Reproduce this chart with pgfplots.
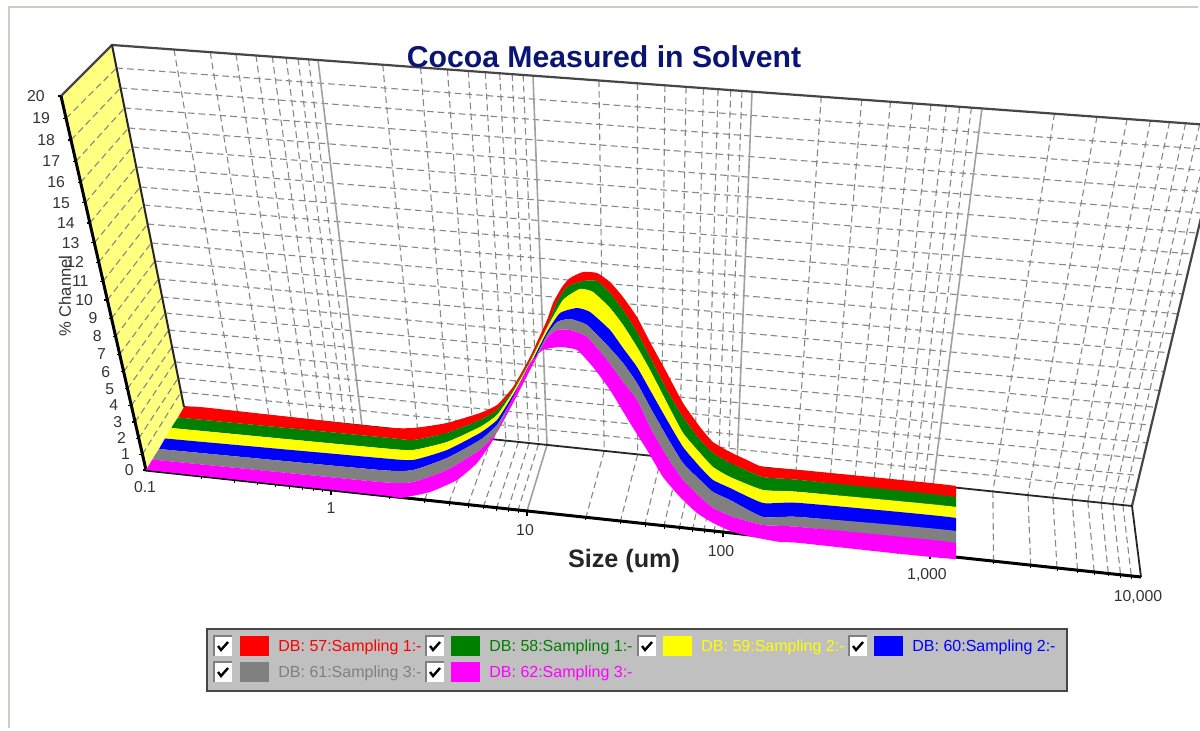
\documentclass[border=0pt]{standalone}
\usepackage{fontspec}
\setmainfont{Liberation Sans}
\usepackage{pgfplots}
\usepackage{pgfplotstable}
\pgfplotsset{compat=1.18}

\definecolor{navytitle}{RGB}{10,20,115}
\definecolor{wallyellow}{RGB}{255,255,128}
\definecolor{gridgray}{RGB}{135,135,135}
\definecolor{majorgray}{RGB}{160,160,160}
\definecolor{framegray}{RGB}{70,70,70}
\definecolor{panelgray}{RGB}{192,192,192}
\definecolor{border}{RGB}{208,204,194}
\definecolor{dbred}{RGB}{255,0,0}
\definecolor{dbgreen}{RGB}{0,128,0}
\definecolor{dbyellow}{RGB}{255,255,0}
\definecolor{dbblue}{RGB}{0,0,255}
\definecolor{dbgray}{RGB}{128,128,128}
\definecolor{dbmagenta}{RGB}{255,0,255}

% picture is laid out in reference pixels (y downwards), 1 px = 0.5 pt
% band edges, back to front
\pgfplotstableread{
x y
184 407
205 407.5
380 427
413 428
447 423
480 413
497 405
513 387
530 357
547 320
553 303
562 287
570 278
583 272
597 273
610 282
623 297
637 317
650 342
667 373
683 403
700 427
713 442
730 452
747 460
763 467
800 470
956 486
}\edgeA
\pgfplotstableread{
x y
178 417.5
380 437
413 440
447 433
480 420
497 410
513 390
530 360
547 327
557 302
567 287
583 281
597 281
610 293
623 310
637 332
650 357
667 390
683 417
700 440
713 453
730 463
763 477
800 480
956 497
}\edgeB
\pgfplotstableread{
x y
171 428
380 448
413 450
447 442
480 427
497 415
513 392
530 362
547 328
563 300
580 289
593 292
610 308
623 325
637 347
650 370
667 403
683 433
700 453
713 467
730 477
763 490
800 492
956 507
}\edgeC
\pgfplotstableread{
x y
165 438.5
380 458
413 460
447 450
480 433
497 420
513 395
530 365
547 332
560 313
577 308
590 312
610 330
623 348
637 367
650 390
667 420
683 447
700 467
713 480
730 488
763 503
800 503
956 518
}\edgeD
\pgfplotstableread{
x y
159 449
380 470
413 470
447 458
480 440
497 425
513 398
530 368
547 335
557 322
570 319
587 325
607 345
623 363
637 383
650 407
667 437
683 463
700 480
713 492
730 500
763 517
800 517
956 531
}\edgeE
\pgfplotstableread{
x y
152 459.5
380 482
413 482
447 470
480 450
497 432
513 403
530 370
547 338
557 330
570 330
587 337
607 360
623 382
637 400
650 427
667 457
683 480
700 497
713 508
733 517
763 525
800 527
956 543
}\edgeF
\pgfplotstableread{
x y
146 470
380 495
400 498
430 492
457 480
477 463
493 440
513 397
530 363
543 350
560 347
577 350
593 367
610 390
630 423
647 450
663 477
680 497
697 513
713 523
733 532
753 537
780 542
800 543
956 559
}\edgeG

% a band is its upper edge followed by its lower edge run backwards
\newcommand{\makeband}[3]{%
  \pgfplotstablesort[sort key=x,sort cmp=float >]\tmprev{#3}%
  \pgfplotstablevertcat{#1}{#2}%
  \pgfplotstablevertcat{#1}{\tmprev}%
}
\makeband{\bandA}{\edgeA}{\edgeB}
\makeband{\bandB}{\edgeB}{\edgeC}
\makeband{\bandC}{\edgeC}{\edgeD}
\makeband{\bandD}{\edgeD}{\edgeE}
\makeband{\bandE}{\edgeE}{\edgeF}
\makeband{\bandF}{\edgeF}{\edgeG}

% decade positions on the wall top, wall foot and floor front
\def\topX{{112,318,533,752,982,1223}}
\def\topY{{45,60,75.7,91.7,108,126}}
\def\botX{{184,362,547,737,933,1132}}
\def\botY{{407,425.6,445,465,485,506}}
\def\froX{{146,331,527,723,930,1141}}
\def\froY{{470,490,511,532,554,577}}
% wall line height at its left end, for 0..20 percent
\def\backY{{407,392,378,362,347,330,313,297,279,261,243,224,205,187,167,147,128,108,88,68,45}}

\tikzset{
  griddash/.style={gridgray,line width=0.55pt,dash pattern=on 3.3pt off 2pt},
  ticklbl/.style={text=black!80,font=\fontsize{7.9}{9}\selectfont,inner sep=0pt},
  band/.style={fill=#1,draw=none,smooth,tension=0.3},
}

\newcommand{\legendentry}[5]{% checkbox x, swatch x, row y, colour, text
  \fill[white] (#1-9,#3-10) rectangle (#1+9,#3+10);
  \draw[gray,line width=0.9pt] (#1-9,#3+10) -- (#1-9,#3-10) -- (#1+9,#3-10);
  \draw[black,line width=1.2pt] (#1-5,#3) -- (#1-2,#3+4) -- (#1+5,#3-4);
  \fill[#4] (#2,#3-10) rectangle (#2+29,#3+10);
  \node[anchor=base west,inner sep=0pt,text=#4,font=\fontsize{8}{9}\selectfont] at (#2+38,#3+6) {#5};
}

\begin{document}
\begin{tikzpicture}
\begin{axis}[
  scale only axis,
  width=600pt,
  height=365.5pt,
  xmin=0, xmax=1200,
  ymin=0, ymax=731,
  y dir=reverse,
  hide axis,
]
% window border
\addplot[border,line width=1.3pt] coordinates {(9,728) (9,7) (1198,7)};

% left wall
\addplot[fill=wallyellow,draw=none] coordinates {(146,470) (61,96) (112,45) (184,407)} -- cycle;

% back wall and left wall rules, percent
\foreach \p in {1,...,19}{
  \pgfmathsetmacro\yl{\backY[\p]}
  \pgfmathsetmacro\xl{184-(407-\yl)*0.1989}
  \pgfmathsetmacro\yr{506-(407-\yl)*1.04972}
  \pgfmathsetmacro\xr{1132+(506-\yr)*0.23947}
  \pgfmathsetmacro\q{\p/20}
  \pgfmathsetmacro\f{\q*0.833/(1-0.167*\q)}
  \pgfmathsetmacro\xf{146-85*\f}
  \pgfmathsetmacro\yf{470-374*\f}
  \edef\temp{\noexpand\addplot[griddash] coordinates {(\xl,\yl) (\xr,\yr)};
    \noexpand\addplot[griddash] coordinates {(\xf,\yf) (\xl,\yl)};}
  \temp
}

% minor size rules on wall and floor
\foreach \k in {0,...,4}{
  \foreach \m in {2,...,9}{
    \pgfmathsetmacro\t{log10(\m)}
    \pgfmathsetmacro\xa{\topX[\k]+\t*(\topX[\k+1]-\topX[\k])}
    \pgfmathsetmacro\ya{\topY[\k]+\t*(\topY[\k+1]-\topY[\k])}
    \pgfmathsetmacro\xb{\botX[\k]+\t*(\botX[\k+1]-\botX[\k])}
    \pgfmathsetmacro\yb{\botY[\k]+\t*(\botY[\k+1]-\botY[\k])}
    \pgfmathsetmacro\xc{\froX[\k]+\t*(\froX[\k+1]-\froX[\k])}
    \pgfmathsetmacro\yc{\froY[\k]+\t*(\froY[\k+1]-\froY[\k])}
    \pgfmathsetmacro\yd{\yc+3}
    \edef\temp{\noexpand\addplot[griddash] coordinates {(\xa,\ya) (\xb,\yb)};
      \noexpand\addplot[griddash] coordinates {(\xb,\yb) (\xc,\yc)};
      \noexpand\addplot[black,line width=0.5pt] coordinates {(\xc,\yc) (\xc,\yd)};}
    \temp
  }
}

% major size rules
\foreach \k in {1,...,4}{
  \pgfmathsetmacro\xa{\topX[\k]}
  \pgfmathsetmacro\ya{\topY[\k]}
  \pgfmathsetmacro\xb{\botX[\k]}
  \pgfmathsetmacro\yb{\botY[\k]}
  \pgfmathsetmacro\xc{\froX[\k]}
  \pgfmathsetmacro\yc{\froY[\k]}
  \pgfmathsetmacro\yd{\yc+5}
  \edef\temp{\noexpand\addplot[majorgray,line width=0.8pt] coordinates {(\xa,\ya) (\xb,\yb) (\xc,\yc)};
    \noexpand\addplot[black,line width=0.6pt] coordinates {(\xc,\yc) (\xc,\yd)};}
  \temp
}

% frame
\addplot[framegray,line width=1.1pt] coordinates {(61,96) (112,45) (1223,126) (1132,506)};
\addplot[black!85,line width=1pt] coordinates {(112,45) (184,407)};
\addplot[black!85,line width=0.9pt] coordinates {(184,407) (1132,506) (1141,577)};
\addplot[black,line width=1.5pt] coordinates {(61,96) (146,470) (1141,577)};

% size bands, cut square at both ends
\begin{scope}
\clip (184,200) -- (956,200) -- (956,600) -- (146,600) -- (146,470) -- (184,407) -- cycle;
\addplot[band=dbred] table {\bandA} -- cycle;
\addplot[band=dbgreen] table {\bandB} -- cycle;
\addplot[band=dbyellow] table {\bandC} -- cycle;
\addplot[band=dbblue] table {\bandD} -- cycle;
\addplot[band=dbgray] table {\bandE} -- cycle;
\addplot[band=dbmagenta] table {\bandF} -- cycle;
\end{scope}

% percent tick labels
\foreach \p in {0,...,20}{
  \pgfmathsetmacro\q{\p/20}
  \pgfmathsetmacro\f{\q*0.833/(1-0.167*\q)}
  \pgfmathsetmacro\xf{146-85*\f}
  \pgfmathsetmacro\yf{470-374*\f}
  \pgfmathsetmacro\xt{\xf-3}
  \pgfmathsetmacro\xn{\xf-12-4*\q}
  \edef\temp{\noexpand\addplot[black,line width=0.6pt] coordinates {(\xt,\yf) (\xf,\yf)};
    \noexpand\node[ticklbl,anchor=east] at (axis cs:\xn,\yf) {\p};}
  \temp
}

% size tick labels
\node[ticklbl] at (axis cs:145,487) {0.1};
\node[ticklbl] at (axis cs:331,508) {1};
\node[ticklbl] at (axis cs:525,530) {10};
\node[ticklbl] at (axis cs:721,551) {100};
\node[ticklbl] at (axis cs:927,575) {1,000};
\node[ticklbl] at (axis cs:1138,597) {10,000};

% titles
\node[text=navytitle,font=\bfseries\fontsize{15.1}{17}\selectfont,inner sep=0pt] at (axis cs:604,57) {Cocoa Measured in Solvent};
\node[text=black!85,font=\bfseries\fontsize{12.6}{15}\selectfont,inner sep=0pt] at (axis cs:624,560.5) {Size (um)};
\node[text=black!80,font=\fontsize{8.3}{9}\selectfont,inner sep=0pt,rotate=90] at (axis cs:65,296) {\% Channel};

% legend panel
\draw[fill=panelgray,draw=framegray,line width=1.1pt] (207,629) rectangle (1067,691);
\legendentry{223}{240}{646}{dbred}{DB: 57:Sampling 1:-}
\legendentry{435}{451}{646}{dbgreen}{DB: 58:Sampling 1:-}
\legendentry{647}{663}{646}{dbyellow}{DB: 59:Sampling 2:-}
\legendentry{858}{874}{646}{dbblue}{DB: 60:Sampling 2:-}
\legendentry{223}{240}{672}{dbgray}{DB: 61:Sampling 3:-}
\legendentry{435}{451}{672}{dbmagenta}{DB: 62:Sampling 3:-}
\end{axis}
\pgfresetboundingbox
\path[use as bounding box] (0,0) rectangle (600pt,365.5pt);
\end{tikzpicture}
\end{document}
